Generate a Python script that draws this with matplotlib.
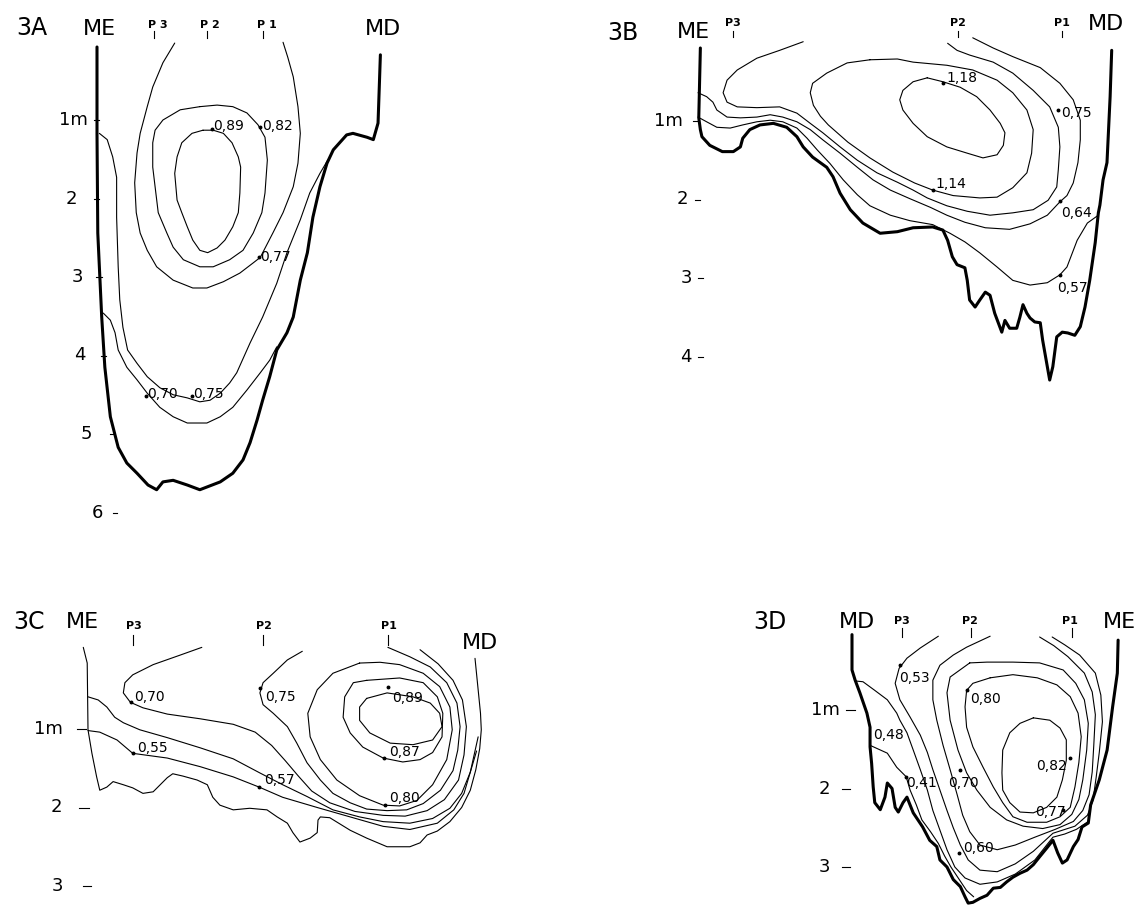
import matplotlib
matplotlib.use("Agg")
import matplotlib.pyplot as plt

# ------------------------------------------------------------------
# Data: horizontal distance (m) and depth (m) of every traced line
# ------------------------------------------------------------------

# ---------------- Panel 3A ----------------
A_OUTLINE = [(0.00, 0.07), (0.00, 1.17), (0.01, 2.44), (0.06, 3.51), (0.10, 4.15), (0.17, 4.78),
             (0.27, 5.17), (0.38, 5.37), (0.51, 5.50), (0.65, 5.65), (0.76, 5.71), (0.84, 5.61),
             (0.97, 5.59), (1.15, 5.65), (1.31, 5.71), (1.57, 5.61), (1.73, 5.50), (1.86, 5.33),
             (1.95, 5.11), (2.04, 4.82), (2.11, 4.57), (2.20, 4.27), (2.29, 3.93), (2.42, 3.71),
             (2.50, 3.51), (2.59, 3.04), (2.68, 2.69), (2.75, 2.24), (2.84, 1.85), (2.93, 1.55),
             (3.01, 1.38), (3.18, 1.19), (3.26, 1.17), (3.44, 1.22), (3.52, 1.25), (3.58, 1.04),
             (3.61, 0.17)]
A_C089 = [(1.35, 1.13), (1.21, 1.17), (1.08, 1.29), (1.02, 1.47), (0.99, 1.68), (1.02, 2.02),
          (1.08, 2.18), (1.15, 2.36), (1.22, 2.53), (1.31, 2.66), (1.41, 2.69), (1.53, 2.63),
          (1.63, 2.53), (1.73, 2.36), (1.80, 2.18), (1.82, 1.93), (1.83, 1.60), (1.80, 1.47),
          (1.72, 1.29), (1.61, 1.17), (1.48, 1.13), (1.35, 1.13)]
A_C082 = [(1.31, 0.83), (1.06, 0.87), (0.84, 1.00), (0.74, 1.13), (0.71, 1.29), (0.71, 1.60),
          (0.74, 1.85), (0.78, 2.18), (0.89, 2.44), (0.97, 2.62), (1.10, 2.78), (1.31, 2.87),
          (1.48, 2.87), (1.69, 2.78), (1.86, 2.66), (1.99, 2.44), (2.10, 2.18), (2.14, 1.93),
          (2.17, 1.51), (2.14, 1.22), (2.05, 1.06), (1.91, 0.91), (1.73, 0.83), (1.53, 0.81),
          (1.31, 0.83)]
A_C077 = [(0.99, 0.02), (0.84, 0.27), (0.71, 0.58), (0.64, 0.83), (0.55, 1.17), (0.51, 1.42),
          (0.48, 1.80), (0.50, 2.18), (0.55, 2.44), (0.64, 2.66), (0.76, 2.87), (0.97, 3.04),
          (1.22, 3.14), (1.40, 3.14), (1.61, 3.06), (1.82, 2.95), (1.99, 2.82), (2.08, 2.75),
          (2.24, 2.44), (2.37, 2.18), (2.50, 1.85), (2.56, 1.55), (2.59, 1.17), (2.56, 0.83),
          (2.50, 0.45), (2.43, 0.20), (2.37, 0.01)]
A_C075 = [(0.03, 1.17), (0.13, 1.25), (0.20, 1.47), (0.25, 1.73), (0.25, 2.24), (0.27, 2.87),
          (0.29, 3.29), (0.33, 3.64), (0.39, 3.93), (0.51, 4.10), (0.64, 4.27), (0.80, 4.41),
          (0.97, 4.50), (1.15, 4.54), (1.31, 4.59), (1.44, 4.57), (1.57, 4.48), (1.69, 4.35),
          (1.78, 4.22), (1.95, 3.84), (2.11, 3.51), (2.29, 3.08), (2.42, 2.69), (2.59, 2.27),
          (2.71, 1.93), (2.84, 1.68), (2.94, 1.51)]
A_C070 = [(0.08, 3.46), (0.17, 3.55), (0.23, 3.71), (0.27, 3.93), (0.38, 4.15), (0.51, 4.31),
          (0.64, 4.48), (0.80, 4.66), (0.97, 4.78), (1.15, 4.86), (1.40, 4.86), (1.57, 4.78),
          (1.73, 4.66), (1.91, 4.44), (2.08, 4.22), (2.20, 4.06), (2.29, 3.89)]
A_VALUES = ["0,89", "0,82", "0,77", "0,75", "0,70"]
A_DEPTHS = [1, 2, 3, 4, 5, 6]
A_DEPTH_TEXT = ["1m", "2", "3", "4", "5", "6"]

# ---------------- Panel 3B ----------------
B_OUTLINE = [(0.03, 0.07), (0.01, 0.96), (0.03, 1.11), (0.05, 1.20), (0.15, 1.31), (0.31, 1.39),
             (0.45, 1.39), (0.54, 1.33), (0.57, 1.22), (0.66, 1.11), (0.79, 1.05), (0.96, 1.03),
             (1.13, 1.08), (1.26, 1.20), (1.34, 1.33), (1.46, 1.46), (1.64, 1.59), (1.72, 1.71),
             (1.81, 1.92), (1.94, 2.13), (2.10, 2.30), (2.32, 2.43), (2.54, 2.41), (2.74, 2.36),
             (2.99, 2.35), (3.12, 2.39), (3.18, 2.52), (3.24, 2.73), (3.30, 2.83), (3.40, 2.87),
             (3.43, 3.03), (3.46, 3.28), (3.53, 3.37), (3.59, 3.28), (3.66, 3.18), (3.72, 3.22),
             (3.78, 3.45), (3.87, 3.69), (3.91, 3.54), (3.97, 3.64), (4.06, 3.64), (4.10, 3.50),
             (4.14, 3.34), (4.19, 3.45), (4.23, 3.51), (4.29, 3.56), (4.36, 3.57), (4.39, 3.79),
             (4.45, 4.13), (4.48, 4.30), (4.52, 4.13), (4.57, 3.75), (4.64, 3.69), (4.71, 3.70),
             (4.80, 3.73), (4.87, 3.62), (4.93, 3.37), (4.99, 3.03), (5.06, 2.55), (5.10, 2.17),
             (5.12, 2.07), (5.16, 1.75), (5.21, 1.53), (5.25, 0.69), (5.27, 0.10)]
B_C118 = [(2.92, 0.45), (2.74, 0.50), (2.61, 0.61), (2.57, 0.73), (2.61, 0.86), (2.74, 1.03),
          (2.92, 1.20), (3.17, 1.33), (3.43, 1.41), (3.63, 1.47), (3.81, 1.43), (3.89, 1.31),
          (3.91, 1.15), (3.85, 1.03), (3.72, 0.86), (3.55, 0.69), (3.34, 0.57), (3.12, 0.50),
          (2.92, 0.45)]
B_C114 = [(2.19, 0.22), (1.90, 0.26), (1.64, 0.39), (1.46, 0.52), (1.43, 0.64), (1.47, 0.80),
          (1.56, 0.94), (1.66, 1.05), (1.91, 1.27), (2.19, 1.47), (2.48, 1.65), (2.76, 1.79),
          (2.99, 1.88), (3.25, 1.95), (3.59, 1.98), (3.81, 1.97), (4.01, 1.85), (4.19, 1.66),
          (4.25, 1.41), (4.27, 1.11), (4.19, 0.86), (4.01, 0.64), (3.81, 0.48), (3.50, 0.35),
          (3.17, 0.29), (2.74, 0.25), (2.54, 0.21), (2.19, 0.22)]
B_C075 = [(1.34, -0.01), (1.04, 0.10), (0.75, 0.20), (0.50, 0.35), (0.37, 0.48), (0.32, 0.64),
          (0.37, 0.76), (0.50, 0.82), (0.75, 0.83), (1.04, 0.82), (1.26, 0.90), (1.43, 1.03),
          (1.59, 1.15), (1.81, 1.33), (2.03, 1.50), (2.28, 1.66), (2.54, 1.78), (2.74, 1.88),
          (2.92, 1.98), (3.17, 2.08), (3.43, 2.15), (3.72, 2.20), (4.01, 2.17), (4.27, 2.13),
          (4.46, 2.01), (4.57, 1.84), (4.59, 1.62), (4.61, 1.33), (4.59, 1.08), (4.48, 0.82),
          (4.27, 0.61), (4.01, 0.39), (3.76, 0.25), (3.46, 0.16), (3.30, 0.10), (3.18, 0.01)]
B_C064 = [(0.00, 0.64), (0.11, 0.69), (0.19, 0.76), (0.24, 0.86), (0.37, 0.95), (0.54, 0.96),
          (0.75, 0.95), (0.92, 0.92), (1.08, 0.95), (1.26, 1.01), (1.43, 1.11), (1.59, 1.24),
          (1.81, 1.41), (2.03, 1.59), (2.23, 1.75), (2.45, 1.88), (2.70, 1.99), (2.96, 2.10),
          (3.17, 2.20), (3.40, 2.29), (3.66, 2.36), (3.97, 2.38), (4.23, 2.31), (4.45, 2.20),
          (4.61, 2.03), (4.70, 1.95), (4.78, 1.79), (4.84, 1.53), (4.87, 1.24), (4.87, 0.99),
          (4.78, 0.73), (4.61, 0.52), (4.36, 0.32), (4.01, 0.18), (3.76, 0.07), (3.50, -0.06)]
B_C057 = [(0.00, 0.95), (0.11, 1.01), (0.24, 1.08), (0.41, 1.09), (0.57, 1.05), (0.75, 1.01),
          (0.92, 0.99), (1.08, 1.01), (1.26, 1.09), (1.39, 1.22), (1.52, 1.37), (1.68, 1.54),
          (1.85, 1.75), (2.03, 1.94), (2.19, 2.08), (2.45, 2.20), (2.70, 2.27), (2.99, 2.32),
          (3.21, 2.43), (3.40, 2.54), (3.59, 2.68), (3.81, 2.86), (4.01, 3.03), (4.23, 3.09),
          (4.45, 3.06), (4.61, 2.96), (4.70, 2.86), (4.83, 2.52), (4.96, 2.30), (5.10, 2.20)]
B_VALUES = ["1,18", "1,14", "0,75", "0,64", "0,57"]
B_DEPTHS = [1, 2, 3, 4]
B_DEPTH_TEXT = ["1m", "2", "3", "4"]

# ---------------- Panel 3C ----------------
C_OUTLINE = [(-0.06, -0.04), (-0.01, 0.16), (0.00, 1.01), (0.05, 1.31), (0.11, 1.61), (0.15, 1.78),
             (0.24, 1.74), (0.32, 1.67), (0.45, 1.71), (0.57, 1.75), (0.70, 1.82), (0.83, 1.80),
             (0.92, 1.71), (1.01, 1.62), (1.08, 1.57), (1.21, 1.60), (1.39, 1.65), (1.52, 1.71),
             (1.59, 1.87), (1.68, 1.97), (1.85, 2.03), (2.06, 2.01), (2.28, 2.03), (2.41, 2.12),
             (2.54, 2.20), (2.61, 2.32), (2.70, 2.44), (2.83, 2.39), (2.92, 2.32), (2.93, 2.16),
             (2.96, 2.12), (3.08, 2.13), (3.34, 2.29), (3.55, 2.39), (3.81, 2.50), (4.10, 2.50),
             (4.23, 2.45), (4.32, 2.35), (4.45, 2.30), (4.61, 2.18), (4.76, 2.00), (4.87, 1.78),
             (4.94, 1.52), (4.99, 1.25), (5.01, 1.01), (5.00, 0.80), (4.97, 0.50), (4.93, 0.10)]
C_C089 = [(3.55, 0.61), (3.46, 0.72), (3.46, 0.89), (3.59, 1.05), (3.85, 1.18), (4.14, 1.20),
          (4.39, 1.14), (4.51, 0.97), (4.48, 0.80), (4.36, 0.67), (4.14, 0.59), (3.81, 0.54),
          (3.55, 0.61)]
C_C087 = [(3.55, 0.38), (3.38, 0.41), (3.27, 0.59), (3.25, 0.85), (3.34, 1.05), (3.50, 1.23),
          (3.76, 1.37), (4.01, 1.42), (4.23, 1.39), (4.39, 1.30), (4.51, 1.10), (4.52, 0.80),
          (4.45, 0.59), (4.27, 0.41), (3.97, 0.35), (3.55, 0.38)]
C_C080 = [(3.46, 0.16), (3.12, 0.29), (2.92, 0.50), (2.80, 0.80), (2.83, 1.10), (2.96, 1.39),
          (3.17, 1.65), (3.46, 1.85), (3.76, 1.97), (3.97, 1.98), (4.19, 1.91), (4.39, 1.71),
          (4.57, 1.39), (4.64, 1.01), (4.61, 0.72), (4.48, 0.46), (4.27, 0.29), (3.97, 0.18),
          (3.72, 0.15), (3.46, 0.16)]
C_C075 = [(2.73, 0.01), (2.54, 0.12), (2.36, 0.29), (2.23, 0.41), (2.19, 0.54), (2.23, 0.69),
          (2.36, 0.80), (2.54, 0.97), (2.66, 1.18), (2.79, 1.43), (2.96, 1.65), (3.12, 1.82),
          (3.34, 1.94), (3.55, 2.02), (3.81, 2.04), (4.06, 2.03), (4.27, 1.95), (4.49, 1.78),
          (4.65, 1.53), (4.71, 1.27), (4.74, 0.97), (4.70, 0.67), (4.57, 0.41), (4.36, 0.21),
          (4.10, 0.08), (3.82, -0.04)]
C_C070 = [(1.45, -0.04), (1.17, 0.06), (0.83, 0.18), (0.57, 0.31), (0.47, 0.41), (0.45, 0.54),
          (0.54, 0.66), (0.70, 0.73), (1.01, 0.81), (1.43, 0.87), (1.85, 0.94), (2.13, 1.04),
          (2.34, 1.21), (2.51, 1.40), (2.68, 1.60), (2.85, 1.79), (3.08, 1.94), (3.40, 2.05),
          (3.76, 2.10), (4.04, 2.11), (4.32, 2.04), (4.54, 1.90), (4.72, 1.65), (4.79, 1.33),
          (4.82, 0.97), (4.77, 0.63), (4.65, 0.38), (4.46, 0.17), (4.23, -0.01)]
C_C057 = [(0.00, 0.59), (0.13, 0.63), (0.24, 0.72), (0.34, 0.85), (0.45, 0.92), (0.66, 1.01),
          (1.01, 1.11), (1.43, 1.24), (1.85, 1.38), (2.19, 1.56), (2.48, 1.71), (2.79, 1.86),
          (3.12, 2.03), (3.46, 2.12), (3.76, 2.18), (4.10, 2.20), (4.39, 2.14), (4.61, 2.01),
          (4.76, 1.82), (4.87, 1.55), (4.97, 1.10)]
C_C055 = [(0.00, 1.02), (0.15, 1.04), (0.37, 1.14), (0.57, 1.31), (1.01, 1.37), (1.43, 1.48),
          (1.85, 1.61), (2.18, 1.74), (2.48, 1.87), (2.92, 2.00), (3.34, 2.12), (3.76, 2.24),
          (4.10, 2.28), (4.45, 2.20), (4.66, 2.03), (4.79, 1.82), (4.87, 1.55), (4.95, 1.28)]
C_VALUES = ["0,70", "0,75", "0,89", "0,55", "0,87", "0,57", "0,80"]
C_DEPTHS = [1, 2, 3]
C_DEPTH_TEXT = ["1m", "2", "3"]

# ---------------- Panel 3D ----------------
D_OUTLINE = [(0.00, 0.04), (0.00, 0.49), (0.04, 0.62), (0.10, 0.78), (0.19, 1.04), (0.23, 1.22),
             (0.23, 1.47), (0.25, 1.68), (0.27, 1.98), (0.29, 2.18), (0.36, 2.27), (0.42, 2.11),
             (0.45, 1.93), (0.51, 2.00), (0.55, 2.24), (0.59, 2.30), (0.65, 2.18), (0.70, 2.11),
             (0.78, 2.31), (0.90, 2.49), (0.99, 2.66), (1.08, 2.74), (1.12, 2.91), (1.21, 3.00),
             (1.29, 3.16), (1.38, 3.25), (1.44, 3.38), (1.48, 3.46), (1.54, 3.45), (1.63, 3.40),
             (1.72, 3.36), (1.80, 3.27), (1.89, 3.26), (1.97, 3.19), (2.05, 3.13), (2.14, 3.08),
             (2.23, 3.04), (2.31, 2.97), (2.39, 2.87), (2.48, 2.76), (2.56, 2.66), (2.62, 2.82),
             (2.68, 2.95), (2.74, 2.91), (2.82, 2.74), (2.88, 2.65), (2.93, 2.49), (3.01, 2.44),
             (3.04, 2.21), (3.15, 1.89), (3.25, 1.51), (3.32, 0.96), (3.38, 0.53), (3.39, 0.11)]
D_C082 = [(2.31, 1.10), (2.14, 1.17), (2.01, 1.29), (1.92, 1.51), (1.91, 1.80), (1.92, 2.02),
          (2.01, 2.18), (2.14, 2.30), (2.31, 2.31), (2.48, 2.24), (2.61, 2.11), (2.68, 1.89),
          (2.73, 1.64), (2.73, 1.38), (2.65, 1.23), (2.52, 1.13), (2.31, 1.10)]
D_C080 = [(1.76, 0.59), (1.54, 0.66), (1.46, 0.75), (1.44, 0.96), (1.46, 1.22), (1.54, 1.47),
          (1.67, 1.73), (1.80, 1.98), (1.92, 2.18), (2.05, 2.36), (2.23, 2.43), (2.48, 2.43),
          (2.65, 2.36), (2.78, 2.24), (2.84, 1.98), (2.89, 1.67), (2.92, 1.34), (2.88, 1.04),
          (2.78, 0.83), (2.61, 0.68), (2.36, 0.59), (2.05, 0.55), (1.76, 0.59)]
D_C077 = [(1.50, 0.40), (1.25, 0.58), (1.21, 0.78), (1.25, 1.13), (1.35, 1.51), (1.46, 1.80),
          (1.59, 2.02), (1.76, 2.24), (1.97, 2.40), (2.18, 2.48), (2.43, 2.51), (2.65, 2.46),
          (2.80, 2.33), (2.89, 2.14), (2.94, 1.89), (2.99, 1.51), (3.01, 1.17), (2.96, 0.87),
          (2.85, 0.66), (2.69, 0.49), (2.39, 0.40), (2.05, 0.39), (1.72, 0.39), (1.50, 0.40)]
D_C070 = [(1.76, 0.06), (1.46, 0.20), (1.29, 0.30), (1.12, 0.43), (1.03, 0.62), (1.03, 0.87),
          (1.08, 1.13), (1.16, 1.45), (1.25, 1.76), (1.34, 2.08), (1.41, 2.34), (1.50, 2.55),
          (1.63, 2.72), (1.85, 2.78), (2.08, 2.72), (2.33, 2.62), (2.59, 2.52), (2.82, 2.42),
          (2.94, 2.28), (3.02, 2.08), (3.06, 1.79), (3.08, 1.45), (3.10, 1.06), (3.06, 0.77),
          (2.96, 0.53), (2.75, 0.32), (2.57, 0.18), (2.39, 0.07)]
D_C053 = [(1.10, 0.06), (0.87, 0.21), (0.70, 0.34), (0.60, 0.47), (0.55, 0.66), (0.61, 0.87),
          (0.74, 1.09), (0.87, 1.32), (0.96, 1.54), (1.03, 1.76), (1.12, 2.02), (1.21, 2.28),
          (1.29, 2.50), (1.38, 2.72), (1.48, 2.91), (1.63, 3.04), (1.85, 3.06), (2.08, 2.96),
          (2.31, 2.80), (2.56, 2.57), (2.84, 2.48), (3.00, 2.34), (3.07, 2.15), (3.11, 1.86),
          (3.15, 1.54), (3.19, 1.15), (3.17, 0.81), (3.10, 0.53), (2.90, 0.30), (2.71, 0.17),
          (2.55, 0.07)]
D_C048 = [(0.04, 0.63), (0.14, 0.64), (0.29, 0.75), (0.45, 0.87), (0.57, 1.04), (0.61, 1.13),
          (0.70, 1.29), (0.78, 1.51), (0.87, 1.76), (0.96, 2.02), (1.03, 2.28), (1.12, 2.53),
          (1.21, 2.78), (1.31, 3.00), (1.44, 3.14), (1.63, 3.22), (1.85, 3.19), (2.08, 3.09),
          (2.33, 2.91), (2.48, 2.72), (2.56, 2.62), (2.71, 2.58), (2.86, 2.52), (3.01, 2.42)]
D_C041 = [(0.23, 1.45), (0.45, 1.55), (0.57, 1.73), (0.69, 1.85), (0.74, 2.02), (0.82, 2.21),
          (0.89, 2.40), (1.00, 2.55), (1.10, 2.70), (1.18, 2.86), (1.26, 3.00), (1.36, 3.15),
          (1.46, 3.30), (1.55, 3.38)]
D_VALUES = ["0,53", "0,80", "0,48", "0,41", "0,70", "0,82", "0,77", "0,60"]
D_DEPTHS = [1, 2, 3]
D_DEPTH_TEXT = ["1m", "2", "3"]

# ------------------------------------------------------------------
# Layout
# ------------------------------------------------------------------
W, H = 1138, 907
PX_PER_M = 78.5
FONT = "DejaVu Sans"
INK = "black"

fig = plt.figure(figsize=(W / 100, H / 100), dpi=100)
fig.patch.set_facecolor("white")


def panel(rect, origin):
    left, top, right, bottom = rect
    ox, oy = origin
    ax = fig.add_axes([left / W, 1 - bottom / H, (right - left) / W, (bottom - top) / H])
    ax.set_xlim((left - ox) / PX_PER_M, (right - ox) / PX_PER_M)
    ax.set_ylim((bottom - oy) / PX_PER_M, (top - oy) / PX_PER_M)
    ax.axis("off")
    return ax


def line(ax, pts, lw=0.8):
    xs = [p[0] for p in pts]
    ys = [p[1] for p in pts]
    ax.plot(xs, ys, color=INK, lw=lw, solid_joinstyle="round", solid_capstyle="round",
            clip_on=False)


def txt(ax, x, y, s, size, ha="center", va="center", weight="normal"):
    ax.text(x, y, s, fontsize=size, ha=ha, va=va, family=FONT, weight=weight,
            color=INK, clip_on=False)


def value_labels(ax, texts, text_pos, dot_pos):
    for s, (tx, ty), (dx, dy) in zip(texts, text_pos, dot_pos):
        txt(ax, tx, ty, s, 10, ha="left")
        if dx is not None:
            ax.plot([dx], [dy], "o", ms=1.8, color=INK, clip_on=False)


def depth_axis(ax, depths, texts, label_right, dash):
    for d, s, xr, (x0, x1) in zip(depths, texts, label_right, dash):
        txt(ax, xr, d, s, 13, ha="right")
        ax.plot([x0, x1], [d, d], color=INK, lw=0.8, clip_on=False)


def headers(ax, items, profiles, p_y, tick_y):
    for s, x, y, size, ha in items:
        txt(ax, x, y, s, size, ha=ha)
    for s, xl, xt in profiles:
        txt(ax, xl, p_y, s, 8, weight="bold")
        ax.plot([xt, xt], tick_y, color=INK, lw=0.8, clip_on=False)


# ---------------- 3A ----------------
axA = panel((0, 0, 569, 560), (97, 41.5))
line(axA, A_OUTLINE, lw=2.2)
for c in (A_C089, A_C082, A_C077, A_C075, A_C070):
    line(axA, c)
value_labels(axA, A_VALUES,
             [(1.48, 1.08), (2.10, 1.08), (2.08, 2.75), (1.23, 4.49), (0.64, 4.49)],
             [(1.46, 1.12), (2.08, 1.09), (2.06, 2.75), (1.21, 4.52), (0.62, 4.52)])
depth_axis(axA, A_DEPTHS, A_DEPTH_TEXT,
           [-0.11, -0.25, -0.18, -0.15, -0.06, 0.08],
           [(-0.04, 0.03), (-0.04, 0.03), (-0.01, 0.06), (0.05, 0.11), (0.16, 0.22), (0.21, 0.26)])
headers(axA, [("3A", -0.83, -0.17, 17, "center"), ("ME", 0.03, -0.16, 16, "center"),
              ("MD", 3.64, -0.16, 16, "center")],
        [("P 3", 0.78, 0.73), ("P 2", 1.44, 1.40), ("P 1", 2.17, 2.11)],
        -0.21, [-0.13, -0.04])

# ---------------- 3B ----------------
axB = panel((569, 0, 1138, 453), (698, 42.5))
line(axB, B_OUTLINE, lw=2.2)
for c in (B_C118, B_C114, B_C075, B_C064, B_C057):
    line(axB, c)
value_labels(axB, B_VALUES,
             [(3.16, 0.45), (3.03, 1.80), (4.62, 0.90), (4.63, 2.17), (4.57, 3.13)],
             [(3.12, 0.52), (2.99, 1.88), (4.59, 0.86), (4.61, 2.02), (4.61, 2.96)])
depth_axis(axB, B_DEPTHS, B_DEPTH_TEXT,
           [-0.19, -0.13, -0.08, -0.08],
           [(-0.06, 0.0), (-0.04, 0.02), (0.0, 0.06), (0.0, 0.06)])
headers(axB, [("3B", -0.96, -0.12, 17, "center"), ("ME", -0.06, -0.13, 16, "center"),
              ("MD", 5.20, -0.24, 16, "center")],
        [("P3", 0.45, 0.45), ("P2", 3.31, 3.31), ("P1", 4.64, 4.64)],
        -0.25, [-0.15, -0.07])

# ---------------- 3C ----------------
axC = panel((0, 560, 569, 907), (88, 650.5))
line(axC, C_OUTLINE, lw=0.8)
for c in (C_C089, C_C087, C_C080, C_C075, C_C070, C_C057, C_C055):
    line(axC, c)
value_labels(axC, C_VALUES,
             [(0.59, 0.59), (2.25, 0.59), (3.87, 0.61), (0.62, 1.24), (3.84, 1.29),
              (2.24, 1.65), (3.83, 1.88)],
             [(0.55, 0.66), (2.19, 0.48), (3.82, 0.46), (0.57, 1.31), (3.77, 1.37),
              (2.18, 1.74), (3.78, 1.97)])
depth_axis(axC, C_DEPTHS, C_DEPTH_TEXT,
           [-0.32, -0.33, -0.32],
           [(-0.14, -0.03), (-0.11, 0.01), (-0.06, 0.04)])
headers(axC, [("3C", -0.75, -0.36, 17, "center"), ("ME", -0.07, -0.36, 16, "center"),
              ("MD", 4.99, -0.10, 16, "center")],
        [("P3", 0.59, 0.57), ("P2", 2.24, 2.23), ("P1", 3.83, 3.82)],
        -0.31, [-0.20, -0.07])

# ---------------- 3D ----------------
axD = panel((569, 560, 1138, 907), (852, 631.5))
line(axD, D_OUTLINE, lw=2.2)
for c in (D_C082, D_C080, D_C077, D_C070, D_C053, D_C048, D_C041):
    line(axD, c)
value_labels(axD, D_VALUES,
             [(0.60, 0.59), (1.51, 0.86), (0.27, 1.32), (0.69, 1.93), (1.22, 1.93),
              (2.34, 1.71), (2.33, 2.30), (1.42, 2.76)],
             [(0.61, 0.43), (1.46, 0.75), (None, None), (0.69, 1.85), (1.38, 1.76),
              (2.78, 1.61), (2.69, 2.27), (1.36, 2.82)])
depth_axis(axD, D_DEPTHS, D_DEPTH_TEXT,
           [-0.15, -0.28, -0.28],
           [(-0.08, 0.04), (-0.13, -0.03), (-0.13, -0.03)])
headers(axD, [("3D", -1.04, -0.12, 17, "center"), ("MD", 0.07, -0.12, 16, "center"),
              ("ME", 3.20, -0.12, 16, "left")],
        [("P3", 0.64, 0.64), ("P2", 1.50, 1.52), ("P1", 2.78, 2.80)],
        -0.13, [-0.04, 0.07])

fig.savefig("out.png", dpi=100, facecolor="white")
